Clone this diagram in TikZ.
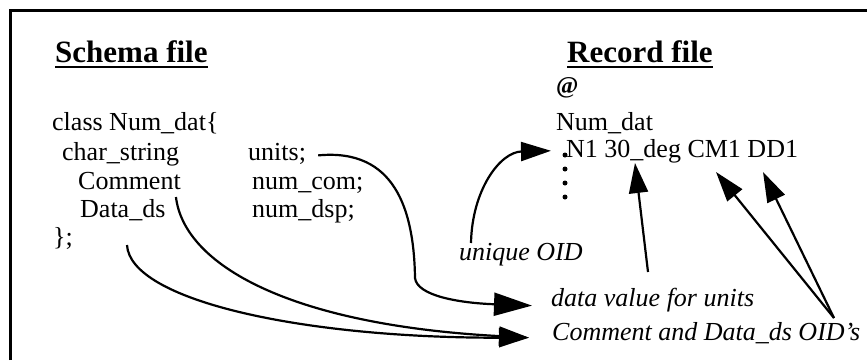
\documentclass[tikz,border=0pt]{standalone}
\usepackage{fontspec}
\setmainfont{Liberation Serif}
\usetikzlibrary{arrows.meta}
\tikzset{
  txt/.style={anchor=base west, inner sep=0pt, font=\fontsize{26}{30}\selectfont},
  hdr/.style={anchor=base west, inner sep=0pt, font=\fontsize{31}{36}\selectfont\bfseries},
  note/.style={anchor=base west, inner sep=0pt, font=\fontsize{26}{30}\selectfont\itshape},
  arr/.style={line width=2.2pt, -{Triangle[length=30pt,width=19pt]}},
  bigarr/.style={line width=2.2pt, -{Triangle[length=38pt,width=23pt]}},
}
\begin{document}
\begin{tikzpicture}[x=1pt,y=-1pt]
        \useasboundingbox (0,0) rectangle (867,360);
        \draw[line width=3pt] (10,360) -- (10,10) -- (867,10);

        % schema side
        \node[hdr] (schema) at (55,62) {Schema file};
        \node[txt] (cls) at (52,130) {class Num\_dat\{};
        \node[txt] (chr) at (62,160) {char\_string};
        \node[txt] (units) at (248,160) {units;};
        \node[txt] (cmt) at (78,189) {Comment};
        \node[txt] (numcom) at (252,189) {num\_com;};
        \node[txt] (dds) at (80,217) {Data\_ds};
        \node[txt] (numdsp) at (252,217) {num\_dsp;};
        \node[txt] (close) at (53,245) {\};};

        % record side
        \node[hdr] (record) at (567,62) {Record file};
        \node[txt, font=\fontsize{24}{28}\selectfont\bfseries] (at) at (556,93) {@};
        \node[txt] (rname) at (556,130) {Num\_dat};
        \node[txt] (rec) at (566,157) {N1 30\_deg CM1 DD1};
        \foreach \y in {155,169,183,197}
            \fill (565,\y) circle (2.5pt);

        % notes
        \node[note] (uoid) at (459,260) {unique OID};
        \node[note] (dval) at (551,306) {data value for units};
        \node[note] (oids) at (552,340) {Comment and Data\_ds OID's};

        \draw[line width=1.8pt] ([yshift=-5pt]schema.base west) -- ([yshift=-5pt]schema.base east);
        \draw[line width=1.8pt] ([yshift=-5pt]record.base west) -- ([yshift=-5pt]record.base east);

        \coordinate (ustart) at (471,243);
        \coordinate (vstart) at (648,272);
        \coordinate (ostart) at (834,318);

        \draw[arr] (ustart) .. controls (472,190) and (500,152) .. ([xshift=-15pt]rec.west);
        \draw[arr] (vstart) -- (635,163);
        \draw[arr] (ostart) -- (716,172);
        \draw[arr] (ostart) -- (763,172);

        \draw[bigarr] ([xshift=12pt,yshift=-2pt]units.east) .. controls (395,148) and (414,210) .. (415,278)
            .. controls (417,296) and (460,303) .. ([xshift=-19pt,yshift=-6pt]dval.west);
        \draw[arr] ([xshift=-5pt,yshift=-8pt]cmt.base east) .. controls (184,265) and (290,325) .. ([xshift=-23pt,yshift=-5pt]oids.west);
        \draw[arr] (127,245) .. controls (130,300) and (300,338) .. ([xshift=-23pt,yshift=-5pt]oids.west);
\end{tikzpicture}
\end{document}
